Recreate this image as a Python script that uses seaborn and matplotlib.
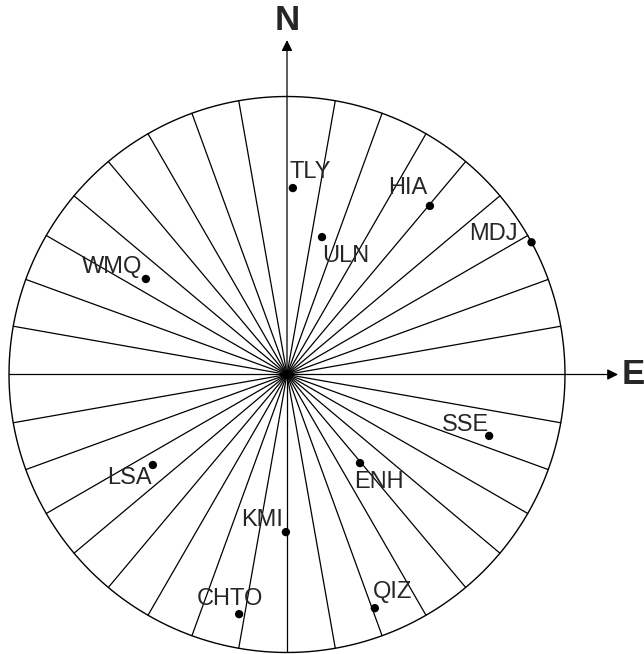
import numpy as np
import pandas as pd
import matplotlib
matplotlib.use("Agg")
import matplotlib.pyplot as plt
import seaborn as sns

# stations: azimuth (deg clockwise from N) and distance (fraction of outer circle)
stations = ["TLY", "ULN", "HIA", "MDJ", "WMQ", "SSE", "ENH", "LSA", "KMI", "QIZ", "CHTO"]
azimuth = [1.8, 14.3, 40.3, 61.6, 304.1, 106.9, 140.5, 236.0, 180.4, 159.4, 191.3]
distance = [0.671, 0.510, 0.795, 1.0, 0.613, 0.760, 0.413, 0.582, 0.567, 0.898, 0.879]

spoke_step = 10  # degrees between radial lines

# label offsets from the dot, in pixels (x right, y up), anchor = text centre / baseline
label_offsets = {
    "TLY": (17, 10), "ULN": (24, -25), "HIA": (-22, 12), "MDJ": (-38, 2),
    "WMQ": (-34, 6), "SSE": (-24, 5), "ENH": (19, -25), "LSA": (-23, -19),
    "KMI": (-24, 6), "QIZ": (18, 10), "CHTO": (-9, 9),
}

sns.set_theme(style="white")
plt.rcParams["font.family"] = ["Liberation Sans", "DejaVu Sans"]

df = pd.DataFrame({"station": stations, "az": azimuth, "dist": distance})
rad = np.deg2rad(df["az"])
df["x"] = df["dist"] * np.sin(rad)
df["y"] = df["dist"] * np.cos(rad)

fig = plt.figure(figsize=(6.44, 6.54), dpi=100)
ax = fig.add_axes([0, 0, 1, 1])

# radial spokes (N and E are drawn as arrows)
for a in range(0, 360, spoke_step):
    if a in (0, 90):
        continue
    t = np.deg2rad(a)
    ax.plot([0, np.sin(t)], [0, np.cos(t)], color="black", lw=0.9, zorder=1)

# outer circle
th = np.linspace(0, 2 * np.pi, 721)
ax.plot(np.sin(th), np.cos(th), color="black", lw=1.0, zorder=1)

# north / east arrows
arrow = dict(arrowstyle="-|>", color="black", lw=0.9, mutation_scale=16,
             shrinkA=0, shrinkB=0)
ax.annotate("", xy=(0, 1.203), xytext=(0, 0), arrowprops=arrow, zorder=2)
ax.annotate("", xy=(1.191, 0), xytext=(0, 0), arrowprops=arrow, zorder=2)
ax.text(0, 1.273, "N", ha="center", va="center", fontsize=25, fontweight="bold")
ax.text(1.245, 0, "E", ha="center", va="center", fontsize=25, fontweight="bold")

sns.scatterplot(data=df, x="x", y="y", ax=ax, color="black", s=36,
                edgecolor="none", legend=False, zorder=3)

for _, row in df.iterrows():
    ox, oy = label_offsets[row["station"]]
    ax.annotate(row["station"], (row["x"], row["y"]), xytext=(ox, oy),
                textcoords="offset pixels", ha="center", va="baseline",
                fontsize=17, zorder=4)

ax.set_xlim(-1.0324, 1.2842)
ax.set_ylim(-1.0054, 1.3471)
ax.set_aspect("equal")
ax.axis("off")

fig.savefig("out.png", dpi=100)
